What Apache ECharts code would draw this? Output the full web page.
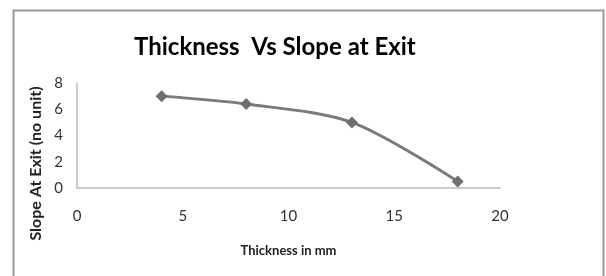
<!DOCTYPE html>
<html>
<head>
<meta charset="utf-8">
<script src="https://cdn.jsdelivr.net/npm/echarts@6/dist/echarts.min.js"></script>
<style>
  html, body { margin: 0; padding: 0; background: #fff; }
  #main { width: 606px; height: 276px; }
</style>
</head>
<body>
<div id="main"></div>
<script>
var thickness = [4, 8, 13, 18];
var slope = [7.0, 6.4, 5.0, 0.5];
var xTicks = [0, 20, 5];
var yTicks = [0, 8, 2];

var chart = echarts.init(document.getElementById("main"));
var points = thickness.map(function (t, i) { return [t, slope[i]]; });

var option = {
  backgroundColor: "#fff",
  animation: false,
  graphic: [
    {
      type: "rect",
      shape: { x: 13.5, y: 10.5, width: 590, height: 300 },
      style: { fill: "none", stroke: "#999", lineWidth: 2 }
    }
  ],
  title: {
    text: "Thickness  Vs Slope at Exit",
    left: 129,
    top: 30,
    textStyle: { fontFamily: "Lato", fontWeight: "bold", fontSize: 24, color: "#000" }
  },
  grid: { left: 77, right: 106, top: 83, bottom: 88 },
  xAxis: {
    type: "value",
    min: xTicks[0], max: xTicks[1], interval: xTicks[2],
    name: "Thickness in mm",
    nameLocation: "middle",
    nameGap: 56,
    nameTextStyle: { fontFamily: "Lato", fontWeight: "bold", fontSize: 13, color: "#222" },
    axisLine: { lineStyle: { color: "#bbb", width: 1.5 } },
    axisTick: { show: false },
    splitLine: { show: false },
    axisLabel: { margin: 21, fontFamily: "Lato", fontSize: 15, color: "#333" }
  },
  yAxis: {
    type: "value",
    min: yTicks[0], max: yTicks[1], interval: yTicks[2],
    name: "Slope At Exit (no unit)",
    nameLocation: "middle",
    nameGap: 30,
    nameTextStyle: { fontFamily: "Lato", fontWeight: "bold", fontSize: 16, color: "#222", padding: [0, 56, 0, 0] },
    axisLine: { show: true, lineStyle: { color: "#bbb", width: 1.5 } },
    axisTick: { show: false },
    splitLine: { show: false },
    axisLabel: { margin: 14, fontFamily: "Lato", fontSize: 15, color: "#333" }
  },
  series: [
    {
      type: "line",
      data: points,
      smooth: 0.3,
      symbol: "diamond",
      symbolSize: 12,
      lineStyle: { color: "#7a7a7a", width: 3 },
      itemStyle: { color: "#6e6e6e" }
    }
  ]
};
chart.setOption(option);
</script>
</body>
</html>
